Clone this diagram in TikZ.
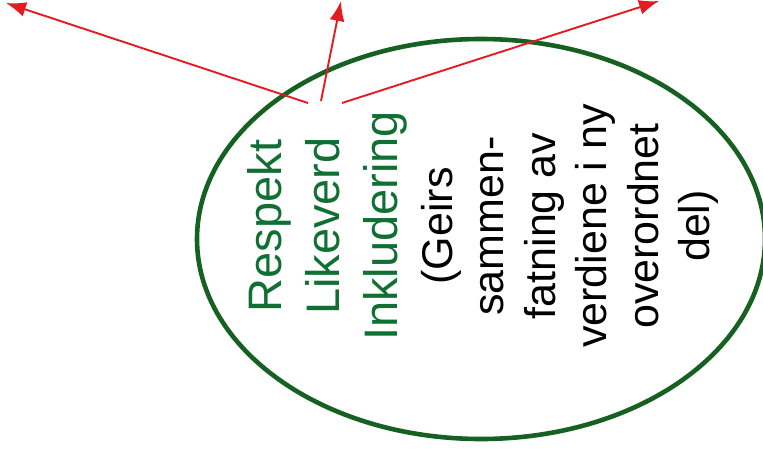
\documentclass[tikz,border=0pt]{standalone}
\usepackage{fontspec}
\setmainfont{Liberation Sans}
\usetikzlibrary{arrows.meta,shapes.geometric}
\definecolor{ringgreen}{RGB}{22,96,34}
\definecolor{valgreen}{RGB}{16,112,52}
\definecolor{arrred}{RGB}{226,28,32}

\begin{document}
\begin{tikzpicture}[x=1pt, y=-1pt,
    ring/.style={ellipse, draw=ringgreen, line width=4.6pt,
                 minimum width=568pt, minimum height=400pt, inner sep=0pt},
    vals/.style={rotate=90, align=center, inner sep=0pt, text=valgreen,
                 font=\fontsize{47}{58}\selectfont},
    note/.style={rotate=90, align=center, inner sep=0pt, text=black,
                 font=\fontsize{43}{51.5}\selectfont},
    arr/.style={-{Latex[length=20pt, width=15pt]}, arrred, line width=1.9pt}]

    \useasboundingbox (0,0) rectangle (763,450);

    % the ellipse with the values
    \node[ring] (ring) at (481,239) {};
    \node[vals] (values) at (327,226) {Respekt\\Likeverd\\Inkludering};
    \node[note] (summary) at (570,226)
      {(Geirs\\sammen-\\fatning av\\verdiene i ny\\overordnet\\del)};

    % arrows out of the ellipse
    \coordinate (fromL) at (308,103);
    \coordinate (fromM) at (321,101);
    \coordinate (fromR) at (342,103);
    \coordinate (toL) at (6,3);
    \coordinate (toM) at (341,1);
    \coordinate (toR) at (659,1);

    \draw[arr] (fromL) -- (toL);
    \draw[arr] (fromM) -- (toM);
    \draw[arr] (fromR) -- (toR);
\end{tikzpicture}
\end{document}
